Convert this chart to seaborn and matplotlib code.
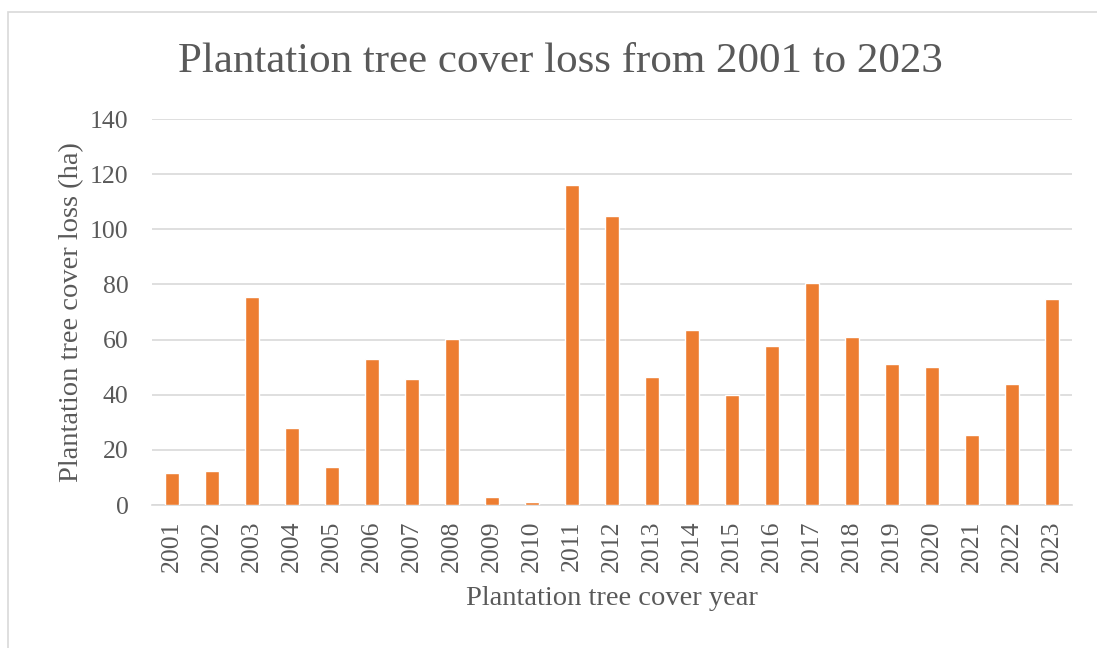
import matplotlib
matplotlib.use("Agg")
import matplotlib.pyplot as plt
import matplotlib.patches as mpatches
import seaborn as sns
import pandas as pd

# data
years = ['2001', '2002', '2003', '2004', '2005', '2006', '2007', '2008', '2009', '2010',
         '2011', '2012', '2013', '2014', '2015', '2016', '2017', '2018', '2019', '2020',
         '2021', '2022', '2023']
loss_ha = [11.5, 12.5, 75.6, 27.8, 13.9, 52.9, 45.6, 60.3, 2.8, 1.0,
           115.9, 104.7, 46.3, 63.5, 39.8, 57.7, 80.5, 61.0, 51.2, 49.9,
           25.4, 43.9, 74.7]

title = 'Plantation tree cover loss from 2001 to 2023'
xlabel = 'Plantation tree cover year'
ylabel = 'Plantation tree cover loss (ha)'

text_color = '#595959'
grid_color = '#D9D9D9'
bar_color = '#ED7D31'

sns.set_style('white')
plt.rcParams['font.family'] = ['Liberation Serif', 'DejaVu Serif']

df = pd.DataFrame({'year': years, 'loss': loss_ha})

fig = plt.figure(figsize=(10.97, 6.48), dpi=100)
ax = fig.add_axes([152 / 1097, 1 - 505 / 648, (1072 - 152) / 1097, (505 - 119) / 648])

sns.barplot(data=df, x='year', y='loss', color=bar_color, width=0.33,
            saturation=1, ax=ax, zorder=3)

ax.set_ylim(0, 140)
ax.set_xlim(-0.5, len(years) - 0.5)
ax.set_yticks(range(0, 141, 20))
ax.yaxis.grid(True, color=grid_color, linewidth=1.2, zorder=0)
ax.set_axisbelow(True)
for side in ['top', 'right', 'left']:
    ax.spines[side].set_visible(False)
ax.spines['bottom'].set_color(grid_color)
ax.spines['bottom'].set_linewidth(1.2)

ax.tick_params(axis='y', length=0, pad=17, labelsize=18.5, labelcolor=text_color)
ax.tick_params(axis='x', length=0, pad=11, labelsize=18.5, labelcolor=text_color,
               labelrotation=90)

ax.set_xlabel(xlabel, fontsize=20.5, color=text_color, labelpad=10)
ax.set_ylabel(ylabel, fontsize=20.5, color=text_color, labelpad=4)
fig.text(560 / 1097, 1 - 62 / 648, title, fontsize=31, color=text_color,
         ha='center', va='center')

# chart area border
border = mpatches.Rectangle((8 / 1097, -0.1), 1.2, (1 - 12 / 648) + 0.1,
                            transform=fig.transFigure, fill=False,
                            edgecolor=grid_color, linewidth=1.2)
fig.patches.append(border)

fig.savefig('out.png', dpi=100)
